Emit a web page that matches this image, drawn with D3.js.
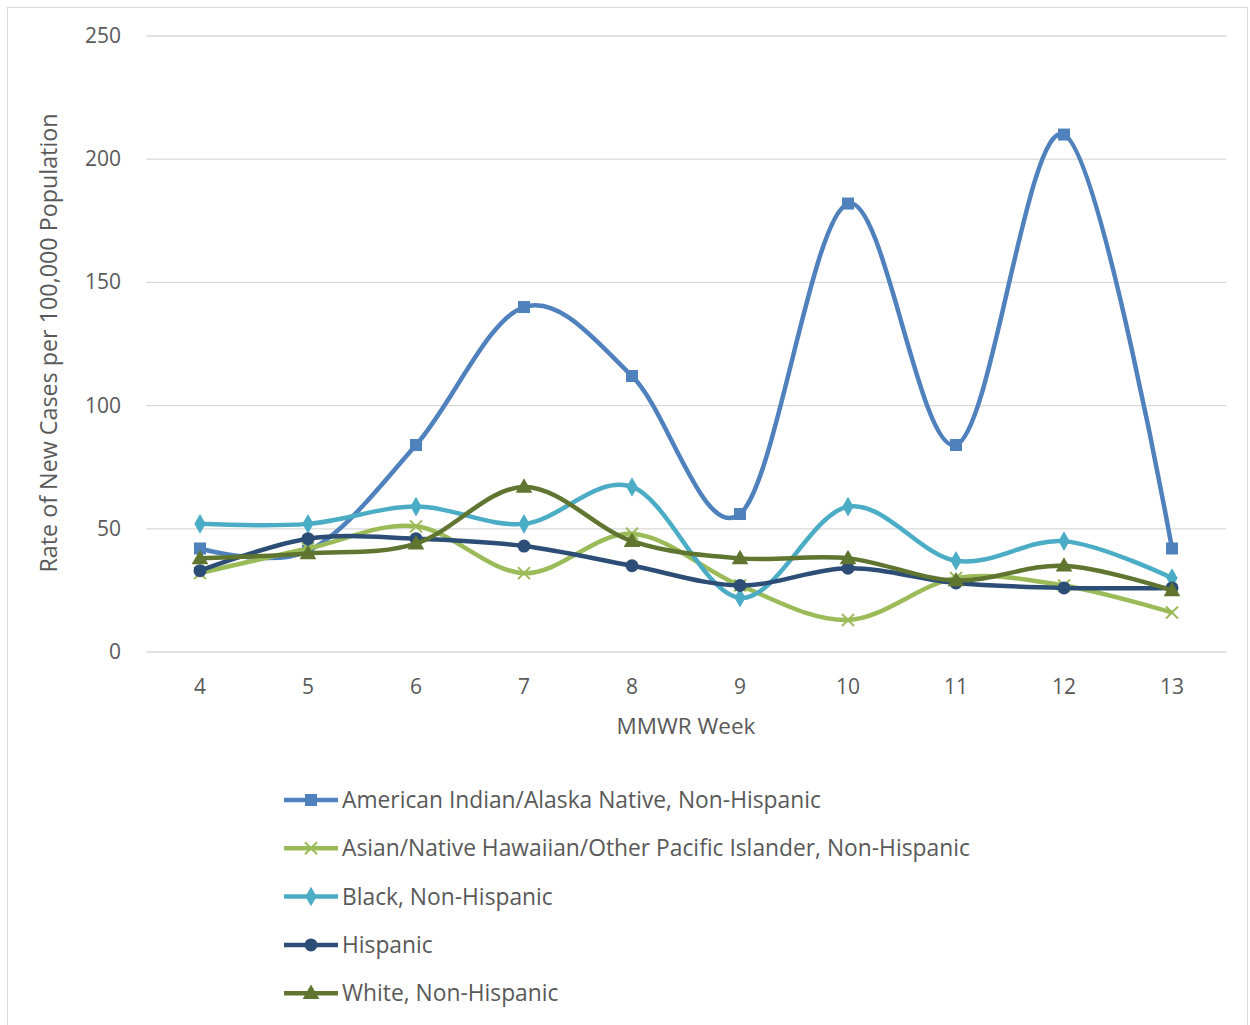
<!DOCTYPE html><html><head><meta charset="utf-8">
<script src="https://cdn.jsdelivr.net/npm/d3@7"></script>
<style>body{margin:0;background:#fff}text{font-family:"Open Sans",Calibri,sans-serif;fill:#595959}</style></head><body>
<svg id="c" width="1250" height="1025"></svg>
<script>
const weeks=[4,5,6,7,8,9,10,11,12,13];
const aian=[42,41,84,140,112,56,182,84,210,42];
const asian=[32,42,51,32,48,27,13,30,27,16];
const black=[52,52,59,52,67,22,59,37,45,30];
const hisp=[33,46,46,43,35,27,34,28,26,26];
const white=[38,40,44,67,45,38,38,29,35,25];
const yTicks=[0,50,100,150,200,250];
const series=[
 {name:"American Indian/Alaska Native, Non-Hispanic",v:aian,c:"#4f81bd",m:"square"},
 {name:"Asian/Native Hawaiian/Other Pacific Islander, Non-Hispanic",v:asian,c:"#9bbb59",m:"x"},
 {name:"Black, Non-Hispanic",v:black,c:"#4bacc6",m:"diamond"},
 {name:"Hispanic",v:hisp,c:"#2c4d75",m:"circle"},
 {name:"White, Non-Hispanic",v:white,c:"#5f7530",m:"triangle"}];
const svg=d3.select("#c");
svg.append("rect").attr("x",7.5).attr("y",7.5).attr("width",1240).attr("height",1030).attr("fill","none").attr("stroke","#d9d9d9");
const x=d3.scalePoint().domain(weeks).range([200,1172]);
const y=d3.scaleLinear().domain([0,250]).range([652,36]);
yTicks.forEach(t=>{svg.append("line").attr("x1",146).attr("x2",1226).attr("y1",y(t)).attr("y2",y(t)).attr("stroke","#d9d9d9").attr("stroke-width",1.3);
 svg.append("text").attr("x",121).attr("y",y(t)+7).attr("text-anchor","end").attr("font-size",21).text(t);});
weeks.forEach(w=>svg.append("text").attr("x",x(w)).attr("y",694).attr("text-anchor","middle").attr("font-size",21).text(w));
svg.append("text").attr("x",686).attr("y",734).attr("text-anchor","middle").attr("font-size",22.5).text("MMWR Week");
svg.append("text").attr("transform","translate(57,343) rotate(-90)").attr("text-anchor","middle").attr("font-size",23.3).text("Rate of New Cases per 100,000 Population");
function marker(g,type,cx,cy,c){
 if(type==="square")g.append("rect").attr("x",cx-6).attr("y",cy-6).attr("width",12).attr("height",12).attr("fill",c);
 else if(type==="circle")g.append("circle").attr("cx",cx).attr("cy",cy).attr("r",6.5).attr("fill",c);
 else if(type==="diamond")g.append("path").attr("d",d3.symbol(d3.symbolDiamond,110)()).attr("transform",`translate(${cx},${cy})`).attr("fill",c);
 else if(type==="triangle")g.append("path").attr("d",d3.symbol(d3.symbolTriangle,120)()).attr("transform",`translate(${cx},${cy+1})`).attr("fill",c);
 else g.append("path").attr("d",`M${cx-6},${cy-6}L${cx+6},${cy+6}M${cx-6},${cy+6}L${cx+6},${cy-6}`).attr("stroke",c).attr("stroke-width",2);
}
const line=d3.line().x((d,i)=>x(weeks[i])).y(d=>y(d)).curve(d3.curveCardinal.tension(0));
series.forEach((s,k)=>{
 const g=svg.append("g");
 g.append("path").attr("d",line(s.v)).attr("fill","none").attr("stroke",s.c).attr("stroke-width",4.5);
 s.v.forEach((v,i)=>marker(g,s.m,x(weeks[i]),y(v),s.c));
 const ly=800+k*48.3;
 svg.append("line").attr("x1",284).attr("x2",338).attr("y1",ly).attr("y2",ly).attr("stroke",s.c).attr("stroke-width",4.5);
 marker(svg,s.m,311,ly,s.c);
 svg.append("text").attr("x",342).attr("y",ly+8).attr("font-size",22.8).text(s.name);
});
</script></body></html>
